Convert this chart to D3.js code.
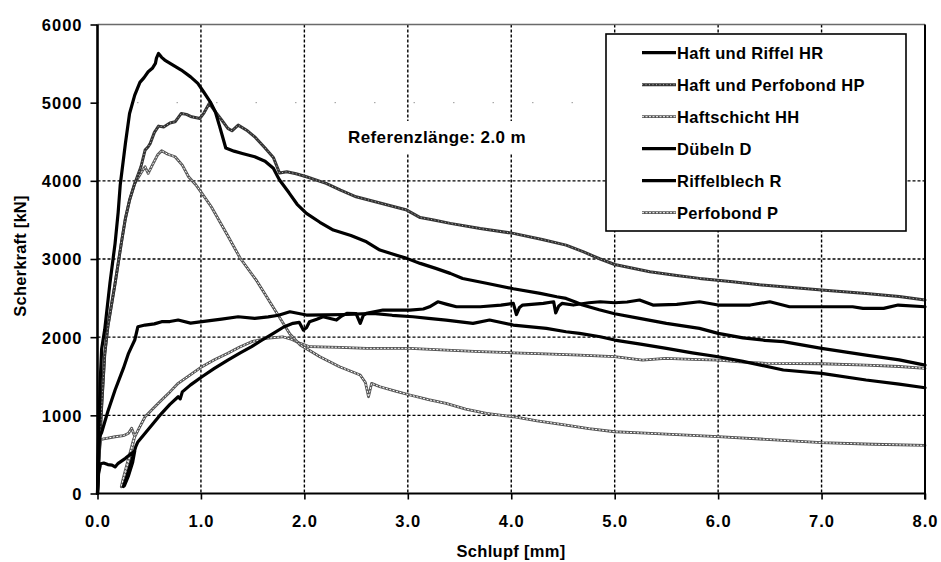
<!DOCTYPE html>
<html>
<head>
<meta charset="utf-8">
<script src="https://cdn.jsdelivr.net/npm/d3@7"></script>
<style>
  html, body { margin: 0; padding: 0; background: #fff; }
  svg text { font-family: "Liberation Sans", Arial, Helvetica, sans-serif; font-weight: bold; fill: #000; }
</style>
</head>
<body>
<svg id="chart" width="941" height="562"></svg>
<script>
// Shear force [kN] versus slip [mm] for the six bond variants.
const xTicks = [0, 1, 2, 3, 4, 5, 6, 7, 8];
const yTicks = [0, 1000, 2000, 3000, 4000, 5000, 6000];
const seriesNames = ["Haft und Riffel HR", "Haft und Perfobond HP", "Haftschicht HH",
                     "Dübeln D", "Riffelblech R", "Perfobond P"];

// [slip mm, force kN]
const hrCurve = [[0,0],[0.005,450],[0.01,700],[0.025,1400],[0.04,1850],[0.07,2100],[0.12,2688],[0.17,3200],
  [0.2,3600],[0.22,3950],[0.27,4480],[0.31,4862],[0.36,5097],[0.41,5260],[0.45,5320],[0.49,5395],[0.53,5440],
  [0.56,5502],[0.57,5570],[0.59,5630],[0.62,5580],[0.65,5545],[0.73,5480],[0.81,5417],[0.9,5330],[0.97,5246],
  [1.03,5130],[1.09,5011],[1.14,4880],[1.18,4700],[1.21,4560],[1.24,4420],[1.32,4380],[1.4,4350],[1.52,4308],
  [1.62,4250],[1.7,4160],[1.74,4060],[1.76,4010],[1.85,3850],[1.93,3700],[2.02,3584],[2.15,3470],[2.28,3370],
  [2.45,3300],[2.6,3220],[2.73,3114],[2.86,3060],[2.99,3008],[3.12,2944],[3.27,2880],[3.41,2816],[3.53,2750],
  [3.76,2690],[4.02,2620],[4.28,2560],[4.44,2517],[4.53,2496],[4.62,2450],[4.69,2411],[4.85,2350],[5.0,2300],
  [5.24,2240],[5.5,2177],[5.82,2112],[6.0,2049],[6.24,1990],[6.45,1960],[6.63,1942],[7.0,1857],[7.43,1771],
  [7.75,1710],[8.0,1643]];

const hpCurve = [[0,0],[0.02,600],[0.04,1110],[0.07,1780],[0.1,2133],[0.17,2688],[0.23,3200],[0.27,3520],
  [0.31,3754],[0.36,3967],[0.42,4180],[0.46,4393],[0.49,4436],[0.51,4479],[0.55,4620],[0.59,4700],[0.64,4690],
  [0.7,4740],[0.75,4755],[0.81,4862],[0.86,4850],[0.91,4819],[0.99,4798],[1.03,4870],[1.08,4990],[1.13,4900],
  [1.2,4780],[1.26,4671],[1.3,4640],[1.36,4713],[1.45,4640],[1.52,4563],[1.62,4420],[1.7,4300],[1.76,4100],
  [1.83,4116],[1.92,4090],[2.02,4052],[2.21,3967],[2.35,3880],[2.5,3796],[2.75,3710],[2.99,3626],[3.12,3530],
  [3.25,3500],[3.41,3456],[3.7,3390],[4.02,3328],[4.3,3250],[4.53,3178],[4.7,3090],[4.86,3000],[5.0,2930],
  [5.34,2837],[5.6,2790],[5.82,2752],[6.14,2709],[6.4,2670],[6.63,2645],[7.0,2603],[7.43,2560],[7.75,2520],
  [8.0,2475]];

const hhCurve = [[0,0],[0.02,600],[0.04,1110],[0.07,1780],[0.1,2133],[0.17,2688],[0.23,3200],[0.27,3520],
  [0.31,3754],[0.36,3967],[0.42,4100],[0.46,4180],[0.49,4095],[0.53,4200],[0.58,4330],[0.62,4385],[0.68,4340],
  [0.75,4308],[0.82,4200],[0.88,4052],[0.95,3950],[1.01,3839],[1.1,3668],[1.25,3320],[1.38,3010],[1.54,2720],
  [1.7,2380],[1.86,2040],[1.96,1900],[2.05,1830],[2.15,1750],[2.34,1622],[2.54,1516],[2.59,1420],[2.62,1238],
  [2.65,1409],[2.73,1366],[2.88,1310],[3.02,1260],[3.2,1200],[3.37,1153],[3.56,1080],[3.76,1025],[4.02,982],
  [4.25,930],[4.53,876],[4.75,830],[5.0,790],[5.25,775],[5.5,760],[6.0,727],[6.5,690],[7.0,650],[7.5,630],
  [8.0,615]];

const dCurve = [[0,0],[0.01,250],[0.03,380],[0.06,390],[0.1,370],[0.14,364],[0.17,340],[0.2,386],[0.27,450],
  [0.33,514],[0.36,545],[0.34,400],[0.3,230],[0.26,100],[0.25,90],[0.28,200],[0.33,420],[0.37,600],[0.39,660],
  [0.46,770],[0.54,900],[0.62,1026],[0.7,1140],[0.78,1238],[0.8,1210],[0.82,1300],[0.9,1390],[1.01,1494],
  [1.13,1600],[1.26,1707],[1.38,1800],[1.49,1880],[1.6,1970],[1.7,2049],[1.8,2130],[1.89,2177],[1.95,2190],
  [1.99,2091],[2.02,2120],[2.05,2198],[2.12,2230],[2.18,2261],[2.31,2219],[2.36,2270],[2.41,2304],[2.5,2300],
  [2.54,2177],[2.57,2280],[2.6,2304],[2.76,2347],[3.02,2347],[3.15,2360],[3.21,2389],[3.29,2453],[3.38,2420],
  [3.47,2389],[3.7,2389],[3.9,2410],[4.02,2432],[4.05,2290],[4.08,2380],[4.11,2411],[4.31,2432],[4.41,2453],
  [4.43,2310],[4.46,2400],[4.49,2432],[4.6,2411],[4.75,2440],[4.86,2453],[5.0,2440],[5.12,2450],[5.24,2475],
  [5.37,2411],[5.6,2420],[5.82,2453],[6.0,2411],[6.31,2411],[6.5,2453],[6.69,2389],[7.0,2389],[7.3,2389],
  [7.4,2368],[7.6,2368],[7.74,2411],[8.0,2389]];

const rCurve = [[0,0],[0.01,500],[0.02,726],[0.04,780],[0.1,1050],[0.17,1324],[0.25,1600],[0.3,1793],
  [0.33,1880],[0.36,1963],[0.39,2133],[0.46,2155],[0.55,2170],[0.62,2198],[0.7,2200],[0.78,2219],[0.9,2180],
  [1.01,2198],[1.2,2230],[1.36,2261],[1.52,2240],[1.65,2260],[1.75,2280],[1.86,2325],[2.02,2283],[2.2,2285],
  [2.4,2290],[2.66,2304],[2.85,2280],[3.05,2261],[3.2,2240],[3.37,2219],[3.63,2177],[3.79,2219],[4.02,2155],
  [4.34,2112],[4.53,2069],[4.66,2049],[4.86,2005],[5.0,1963],[5.25,1910],[5.5,1857],[5.75,1800],[6.0,1750],
  [6.24,1690],[6.63,1580],[7.0,1537],[7.43,1452],[7.75,1400],[8.0,1353]];

const pCurve = [[0,0],[0.01,400],[0.03,690],[0.06,700],[0.1,710],[0.17,726],[0.25,740],[0.3,770],[0.33,834],
  [0.36,730],[0.33,560],[0.28,300],[0.24,110],[0.23,87],[0.25,200],[0.3,450],[0.35,700],[0.4,830],[0.46,982],
  [0.54,1090],[0.62,1196],[0.7,1300],[0.78,1410],[0.9,1520],[1.01,1622],[1.13,1710],[1.26,1793],[1.37,1870],
  [1.49,1942],[1.63,1985],[1.79,2005],[1.88,1970],[1.96,1920],[2.05,1878],[2.34,1870],[2.6,1857],[3.02,1857],
  [3.37,1835],[3.7,1815],[4.02,1800],[4.33,1785],[4.66,1771],[5.0,1750],[5.27,1707],[5.49,1729],[5.75,1715],
  [6.0,1707],[6.24,1680],[6.47,1665],[7.0,1660],[7.43,1643],[7.75,1625],[8.0,1601]];

const annotationText = "Referenzlänge: 2.0 m";
const xTitle = "Schlupf [mm]";
const yTitle = "Scherkraft [kN]";

// ---- layout ----
const plot = { left: 97.5, right: 925, top: 24.5, bottom: 493.5 };
const svg = d3.select("#chart");
const x = d3.scaleLinear().domain([0, 8]).range([plot.left, plot.right]);
const y = d3.scaleLinear().domain([0, 6000]).range([plot.bottom, plot.top]);

// line appearance per series
const styles = [
  { data: hrCurve, base: "#000", width: 3.2 },
  { data: hpCurve, base: "#333", width: 3, over: "#b0b0b0", overWidth: 1, dash: "1,2.5" },
  { data: hhCurve, base: "#555", width: 2.8, over: "#fff", overWidth: 1, dash: "2,1.5" },
  { data: dCurve, base: "#000", width: 3.2 },
  { data: rCurve, base: "#000", width: 3.2 },
  { data: pCurve, base: "#555", width: 2.8, over: "#fff", overWidth: 1, dash: "2,1.5" }
];

// ---- grid ----
const grid = svg.append("g");
grid.selectAll("line.v").data(xTicks.filter(t => t > 0 && t < 8)).join("line")
  .attr("x1", d => x(d)).attr("x2", d => x(d))
  .attr("y1", plot.top).attr("y2", plot.bottom)
  .attr("stroke", "#000").attr("stroke-width", 1.4).attr("stroke-dasharray", "3,2");
grid.selectAll("line.h").data(yTicks.filter(t => t > 0 && t < 6000 && t !== 5000)).join("line")
  .attr("x1", plot.left).attr("x2", plot.right)
  .attr("y1", d => y(d)).attr("y2", d => y(d))
  .attr("stroke", "#000").attr("stroke-width", 1.4).attr("stroke-dasharray", "3,2");
// the 5000 line is only faintly printed
grid.append("line")
  .attr("x1", plot.left).attr("x2", plot.right)
  .attr("y1", y(5000)).attr("y2", y(5000))
  .attr("stroke", "#999").attr("stroke-width", 1).attr("stroke-dasharray", "1.5,38");
// top border
grid.append("line")
  .attr("x1", plot.left).attr("x2", plot.right)
  .attr("y1", plot.top).attr("y2", plot.top)
  .attr("stroke", "#6a6a6a").attr("stroke-width", 1.3);

// ---- annotation (white box interrupts the grid) ----
const ann = svg.append("g");
ann.append("rect").attr("x", 343).attr("y", 121).attr("width", 190).attr("height", 33).attr("fill", "#fff");
ann.append("text").attr("x", 348).attr("y", 143)
  .attr("font-size", 17).attr("letter-spacing", 0.4).text(annotationText);

// ---- curves ----
const line = d3.line().x(d => x(d[0])).y(d => y(d[1])).curve(d3.curveLinear);
const curves = svg.append("g").attr("fill", "none").attr("stroke-linejoin", "round").attr("stroke-linecap", "round");
const drawOrder = [5, 2, 1, 4, 3, 0];
drawOrder.forEach(i => {
  const s = styles[i];
  curves.append("path").attr("d", line(s.data)).attr("stroke", s.base).attr("stroke-width", s.width);
  if (s.over) {
    curves.append("path").attr("d", line(s.data)).attr("stroke", s.over)
      .attr("stroke-width", s.overWidth).attr("stroke-dasharray", s.dash).attr("stroke-linecap", "butt");
  }
});

// ---- axes ----
const xAxis = d3.axisBottom(x).tickValues(xTicks).tickSize(6).tickFormat(d3.format(".1f"));
const yAxis = d3.axisLeft(y).tickValues(yTicks).tickSize(7).tickFormat(d3.format("d"));

const gx = svg.append("g").attr("transform", `translate(0,${plot.bottom})`).call(xAxis);
gx.select(".domain").attr("stroke", "#000").attr("stroke-width", 2.2).attr("d", `M${plot.left},0H${plot.right}`);
gx.selectAll(".tick line").attr("stroke", "#000").attr("stroke-width", 1.6);
gx.selectAll(".tick text").attr("font-size", 16.5).attr("letter-spacing", 1).attr("dy", 0).attr("y", 33)
  .attr("font-family", "'Liberation Sans', Arial, sans-serif").attr("font-weight", "bold").attr("fill", "#000");

const gy = svg.append("g").attr("transform", `translate(${plot.left},0)`).call(yAxis);
gy.select(".domain").attr("stroke", "#000").attr("stroke-width", 2.6).attr("d", `M0,${plot.top}V${plot.bottom}`);
gy.selectAll(".tick line").attr("stroke", "#000").attr("stroke-width", 1.6);
gy.selectAll(".tick text").attr("font-size", 16.5).attr("letter-spacing", 1).attr("x", -15).attr("dy", "0.36em")
  .attr("font-family", "'Liberation Sans', Arial, sans-serif").attr("font-weight", "bold").attr("fill", "#000");

// right border
svg.append("line").attr("x1", plot.right).attr("x2", plot.right)
  .attr("y1", plot.top).attr("y2", plot.bottom + 6)
  .attr("stroke", "#000").attr("stroke-width", 2);

// ---- axis titles ----
svg.append("text").attr("x", 511).attr("y", 557).attr("text-anchor", "middle")
  .attr("font-size", 16.5).attr("letter-spacing", 0.3).text(xTitle);
svg.append("text").attr("transform", "translate(26,256) rotate(-90)").attr("text-anchor", "middle")
  .attr("font-size", 16.5).attr("letter-spacing", 0.2).text(yTitle);

// ---- legend ----
const legend = svg.append("g");
legend.append("rect").attr("x", 606).attr("y", 34).attr("width", 300).attr("height", 197)
  .attr("fill", "#fff").attr("stroke", "#000").attr("stroke-width", 1.6);
seriesNames.forEach((name, i) => {
  const s = styles[i];
  const cy = 52.7 + 32 * i;
  legend.append("line").attr("x1", 642).attr("x2", 676).attr("y1", cy).attr("y2", cy)
    .attr("stroke", s.base).attr("stroke-width", s.width);
  if (s.over) {
    legend.append("line").attr("x1", 642).attr("x2", 676).attr("y1", cy).attr("y2", cy)
      .attr("stroke", s.over).attr("stroke-width", s.overWidth).attr("stroke-dasharray", s.dash);
  }
  legend.append("text").attr("x", 677).attr("y", cy).attr("dy", "0.36em")
    .attr("font-size", 16.5).attr("letter-spacing", 0.3).text(name);
});
</script>
</body>
</html>
